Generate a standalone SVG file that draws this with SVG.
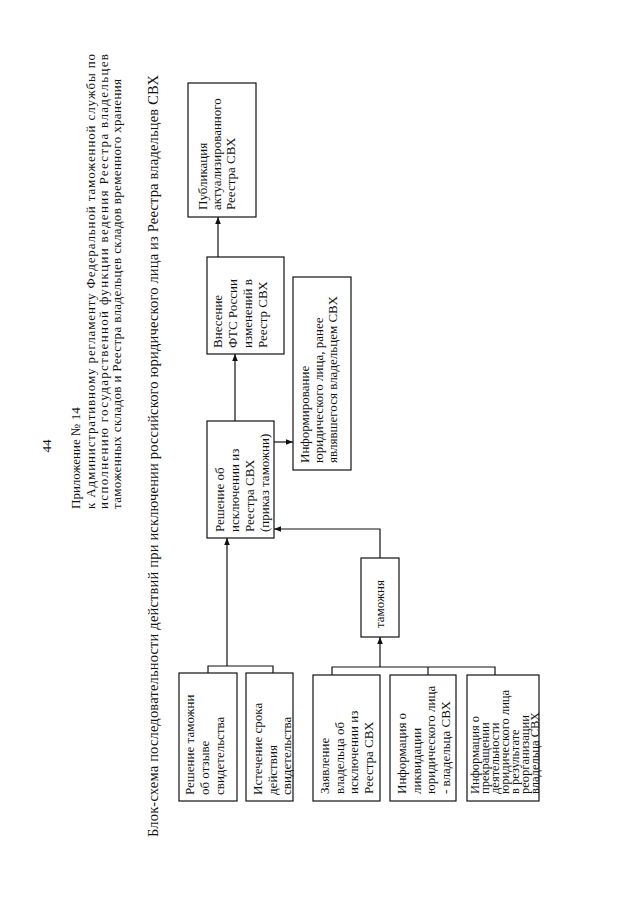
<svg xmlns="http://www.w3.org/2000/svg" width="640" height="900" viewBox="0 0 640 900">
<defs>
<marker id="ah" viewBox="0 0 10 10" refX="10" refY="5" markerWidth="7" markerHeight="7" markerUnits="userSpaceOnUse" orient="auto"><path d="M0,1 L10,5 L0,9 z" fill="#111"/></marker>
<style>
text{font-family:"Liberation Serif","Times New Roman",serif;fill:#111}
.h{font-size:13px}
.t{font-size:14.5px}
.b{font-size:13px}
.s{font-size:12.5px}
.box{fill:#fff;stroke:#111;stroke-width:1.2}
.ln{fill:none;stroke:#111;stroke-width:1.2}
</style>
</defs>
<rect width="640" height="900" fill="#fff"/>
<g id="header">
<text class="h" text-anchor="middle" transform="translate(51,446) rotate(-90)">44</text>
<text class="h" transform="translate(80,509) rotate(-90)">Приложение № 14</text>
<text class="h" transform="translate(95,509) rotate(-90)" textLength="455" lengthAdjust="spacing">к Административному регламенту Федеральной таможенной службы по</text>
<text class="h" transform="translate(108,509) rotate(-90)" textLength="455" lengthAdjust="spacing">исполнению государственной функции ведения Реестра владельцев</text>
<text class="h" transform="translate(121,509) rotate(-90)" textLength="430" lengthAdjust="spacing">таможенных складов и Реестра владельцев складов временного хранения</text>
</g>
<g id="title">
<text class="t" transform="translate(158,837) rotate(-90)" textLength="762" lengthAdjust="spacing">Блок-схема последовательности действий при исключении российского юридического лица из Реестра владельцев СВХ</text>
</g>
<g id="connectors">
<line class="ln" x1="218" y1="257" x2="218" y2="217" marker-end="url(#ah)"/>
<line class="ln" x1="235" y1="421" x2="235" y2="354" marker-end="url(#ah)"/>
<line class="ln" x1="274" y1="442" x2="293" y2="442" marker-end="url(#ah)"/>
<polyline class="ln" points="380,558 380,529 274,529" marker-end="url(#ah)"/>
<polyline class="ln" points="208,673 208,666 273,666 273,673"/>
<line class="ln" x1="227" y1="666" x2="227" y2="538" marker-end="url(#ah)"/>
<polyline class="ln" points="332,675 332,667 495,667 495,675"/>
<line class="ln" x1="428" y1="667" x2="428" y2="675"/>
<line class="ln" x1="380" y1="667" x2="380" y2="637" marker-end="url(#ah)"/>
</g>
<g id="publikaciya">
<rect class="box" x="188" y="83" width="68" height="134"/>
<text class="b" transform="translate(207,210) rotate(-90)"><tspan x="0" dy="0">Публикация</tspan><tspan x="0" dy="14">актуализированного</tspan><tspan x="0" dy="14">Реестра СВХ</tspan></text>
</g>
<g id="vnesenie">
<rect class="box" x="207" y="257" width="77" height="97"/>
<text class="b" transform="translate(222,348) rotate(-90)"><tspan x="0" dy="0">Внесение</tspan><tspan x="0" dy="15">ФТС России</tspan><tspan x="0" dy="15">изменений в</tspan><tspan x="0" dy="15">Реестр СВХ</tspan></text>
</g>
<g id="reshenie-isklyuchenie">
<rect class="box" x="207" y="421" width="67" height="117"/>
<text class="b" transform="translate(224,532) rotate(-90)"><tspan x="0" dy="0">Решение об</tspan><tspan x="0" dy="15">исключении из</tspan><tspan x="0" dy="15">Реестра СВХ</tspan><tspan x="0" dy="15">(приказ таможни)</tspan></text>
</g>
<g id="informirovanie">
<rect class="box" x="293" y="277" width="58" height="193"/>
<text class="b" transform="translate(309,463) rotate(-90)"><tspan x="0" dy="0">Информирование</tspan><tspan x="0" dy="14">юридического лица, ранее</tspan><tspan x="0" dy="14">являвшегося владельцем СВХ</tspan></text>
</g>
<g id="tamozhnya">
<rect class="box" x="361" y="558" width="38" height="79"/>
<text class="b" transform="translate(384,628) rotate(-90)">таможня</text>
</g>
<g id="reshenie-tamozhni">
<rect class="box" x="179" y="673" width="58" height="128"/>
<text class="b" transform="translate(194,795) rotate(-90)"><tspan x="0" dy="0">Решение таможни</tspan><tspan x="0" dy="15">об отзыве</tspan><tspan x="0" dy="15">свидетельства</tspan></text>
</g>
<g id="istechenie">
<rect class="box" x="246" y="673" width="47" height="128"/>
<text class="b" transform="translate(262,795) rotate(-90)"><tspan x="0" dy="0">Истечение срока</tspan><tspan x="0" dy="14.5">действия</tspan><tspan x="0" dy="14.5">свидетельства</tspan></text>
</g>
<g id="zayavlenie">
<rect class="box" x="313" y="675" width="67" height="126"/>
<text class="b" transform="translate(329,794) rotate(-90)"><tspan x="0" dy="0">Заявление</tspan><tspan x="0" dy="14.5">владельца  об</tspan><tspan x="0" dy="14.5">исключении из</tspan><tspan x="0" dy="14.5">Реестра СВХ</tspan></text>
</g>
<g id="likvidaciya">
<rect class="box" x="390" y="675" width="66" height="126"/>
<text class="b" transform="translate(406,794) rotate(-90)"><tspan x="0" dy="0">Информация о</tspan><tspan x="0" dy="14.5">ликвидации</tspan><tspan x="0" dy="14.5">юридического лица</tspan><tspan x="0" dy="14.5">- владельца СВХ</tspan></text>
</g>
<g id="prekrashchenie">
<rect class="box" x="467" y="675" width="72" height="126"/>
<text class="s" transform="translate(478.5,794) rotate(-90)"><tspan x="0" dy="0">Информация о</tspan><tspan x="0" dy="10">прекращении</tspan><tspan x="0" dy="10">деятельности</tspan><tspan x="0" dy="10">юридического лица</tspan><tspan x="0" dy="10">в результате</tspan><tspan x="0" dy="10">реорганизации</tspan><tspan x="0" dy="10">владельца СВХ</tspan></text>
</g>
</svg>
